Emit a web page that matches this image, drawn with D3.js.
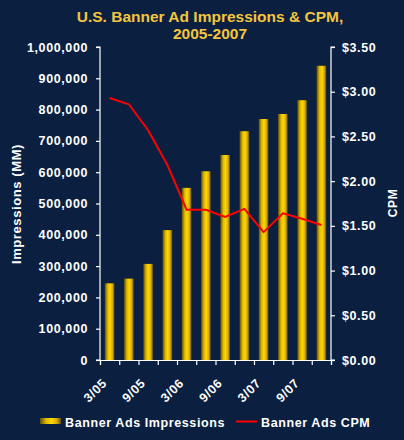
<!DOCTYPE html>
<html>
<head>
<meta charset="utf-8">
<script src="https://cdn.jsdelivr.net/npm/d3@7"></script>
<style>
  html, body { margin: 0; padding: 0; background: #0b1f40; }
  svg { display: block; font-family: Arial, "Liberation Sans", sans-serif; }
</style>
</head>
<body>
<div id="chart"></div>
<script>
// kvartal, endast varannan får etikett
const quarters = ["3/05", "6/05", "9/05", "12/05", "3/06", "6/06", "9/06", "12/06", "3/07", "6/07", "9/07", "12/07"];
const tickLabels = ["3/05", "9/05", "3/06", "9/06", "3/07", "9/07"];
const impressions = [245000, 260000, 307000, 415000, 550000, 603000, 655000, 731000, 770000, 786000, 830000, 940000];
const cpm = [2.93, 2.86, 2.57, 2.18, 1.68, 1.68, 1.60, 1.69, 1.43, 1.64, 1.58, 1.51];
const leftTicks = [0, 100000, 200000, 300000, 400000, 500000, 600000, 700000, 800000, 900000, 1000000];
const rightTicks = [0, 0.5, 1, 1.5, 2, 2.5, 3, 3.5];

const width = 404, height = 440;
const margin = {top: 47, right: 73, bottom: 80, left: 100};

const svg = d3.select("#chart").append("svg")
  .attr("width", width)
  .attr("height", height);

svg.append("rect").attr("width", width).attr("height", height).attr("fill", "#0b1f40");

// gradient för staplarna
const defs = svg.append("defs");
const grad = defs.append("linearGradient").attr("id", "barGrad")
  .attr("x1", "0%").attr("x2", "100%").attr("y1", "0%").attr("y2", "0%");
grad.append("stop").attr("offset", "0%").attr("stop-color", "#5e4d08");
grad.append("stop").attr("offset", "30%").attr("stop-color", "#e0b800");
grad.append("stop").attr("offset", "55%").attr("stop-color", "#ffd800");
grad.append("stop").attr("offset", "80%").attr("stop-color", "#d4aa00");
grad.append("stop").attr("offset", "100%").attr("stop-color", "#5e4d08");

const x = d3.scaleBand()
  .domain(quarters)
  .range([margin.left, width - margin.right])
  .paddingInner(0.5)
  .paddingOuter(0.25);

const xEdges = d3.scaleLinear().domain([0, quarters.length]).range([margin.left, width - margin.right]);

const yL = d3.scaleLinear().domain([0, 1000000]).range([height - margin.bottom, margin.top]);
const yR = d3.scaleLinear().domain([0, 3.5]).range([height - margin.bottom, margin.top]);

// titel
const title = svg.append("text")
  .attr("text-anchor", "middle")
  .attr("fill", "#f3c53f")
  .attr("font-size", 15.5)
  .attr("font-weight", "bold");
title.append("tspan").attr("x", 210).attr("y", 22).text("U.S. Banner Ad Impressions & CPM,");
title.append("tspan").attr("x", 210).attr("y", 39).text("2005-2007");

// staplar
svg.selectAll("rect.bar")
  .data(impressions)
  .enter()
    .append("rect")
    .attr("class", "bar")
    .attr("x", (d, i) => x(quarters[i]))
    .attr("width", x.bandwidth())
    .attr("y", d => yL(d))
    .attr("height", d => yL(0) - yL(d))
    .attr("fill", "url(#barGrad)");

// axlar
const fmt = d3.format(",");
const leftAxis = svg.append("g")
  .attr("transform", `translate(${margin.left},0)`)
  .call(d3.axisLeft(yL).tickValues(leftTicks).tickFormat(fmt).tickSize(4).tickPadding(8));

const rightAxis = svg.append("g")
  .attr("transform", `translate(${width - margin.right},0)`)
  .call(d3.axisRight(yR).tickValues(rightTicks).tickFormat(d => "$" + d.toFixed(2)).tickSize(4).tickPadding(7));

const bottomAxis = svg.append("g")
  .attr("transform", `translate(0,${height - margin.bottom})`)
  .call(d3.axisBottom(xEdges).tickValues(d3.range(0, quarters.length + 1)).tickFormat("").tickSize(5));

[leftAxis, rightAxis, bottomAxis].forEach(a => {
  a.select(".domain").attr("stroke", "white").attr("stroke-width", 1.2);
  a.selectAll(".tick line").attr("stroke", "white").attr("stroke-width", 1.2);
  a.selectAll("text")
    .attr("fill", "white")
    .attr("font-size", 12.5)
    .attr("font-weight", "bold")
    .attr("font-family", "Arial, 'Liberation Sans', sans-serif")
    .style("letter-spacing", "0.6px");
});
leftAxis.select(".domain").attr("d", `M-4,${yL(1000000)}H0V${yL(0)}H-4`);
rightAxis.select(".domain").attr("d", `M4,${yR(3.5)}H0V${yR(0)}H4`);

// x-etiketter, roterade
svg.selectAll("text.xlab")
  .data(tickLabels)
  .enter()
    .append("text")
    .attr("class", "xlab")
    .attr("text-anchor", "end")
    .attr("fill", "white")
    .attr("font-size", 12.5)
    .attr("font-weight", "bold")
    .style("letter-spacing", "0.6px")
    .attr("transform", d => `translate(${x(d) + x.bandwidth() / 2 - 2},${height - margin.bottom + 24}) rotate(-45)`)
    .text(d => d);

// axeltitlar
svg.append("text")
  .attr("transform", `translate(21,204) rotate(-90)`)
  .attr("text-anchor", "middle")
  .attr("fill", "white")
  .attr("font-size", 13)
  .attr("font-weight", "bold")
  .style("letter-spacing", "0.6px")
  .text("Impressions (MM)");

svg.append("text")
  .attr("transform", `translate(397,203) rotate(-90)`)
  .attr("text-anchor", "middle")
  .attr("fill", "white")
  .attr("font-size", 12)
  .attr("font-weight", "bold")
  .style("letter-spacing", "0.6px")
  .text("CPM");

// CPM-linjen
const line = d3.line()
  .x((d, i) => x(quarters[i]) + x.bandwidth() / 2)
  .y(d => yR(d));

svg.append("path")
  .datum(cpm)
  .attr("d", line)
  .attr("fill", "none")
  .attr("stroke", "#ff0000")
  .attr("stroke-width", 2);

// legend
const legend = svg.append("g").attr("transform", "translate(0,422)");
legend.append("rect")
  .attr("x", 40).attr("y", -4).attr("width", 21).attr("height", 6)
  .attr("fill", "url(#barGrad)");
legend.append("text")
  .attr("x", 65).attr("y", 4.5)
  .attr("fill", "white").attr("font-size", 12.5).attr("font-weight", "bold")
  .style("letter-spacing", "0.6px")
  .text("Banner Ads Impressions");
legend.append("line")
  .attr("x1", 236).attr("x2", 257).attr("y1", -0.5).attr("y2", -0.5)
  .attr("stroke", "#ff0000").attr("stroke-width", 2);
legend.append("text")
  .attr("x", 261).attr("y", 4.5)
  .attr("fill", "white").attr("font-size", 12.5).attr("font-weight", "bold")
  .style("letter-spacing", "0.6px")
  .text("Banner Ads CPM");
</script>
</body>
</html>
